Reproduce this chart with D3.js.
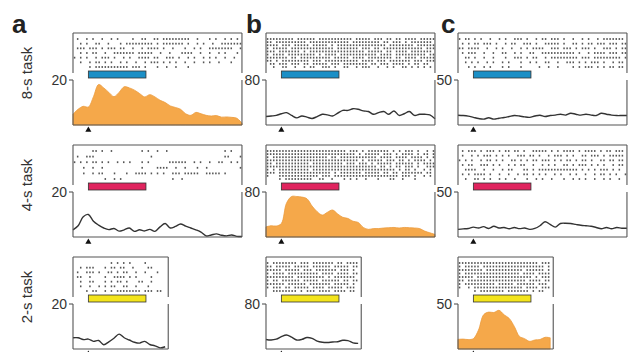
<!DOCTYPE html>
<html>
<head>
<meta charset="utf-8">
<script src="https://cdn.jsdelivr.net/npm/d3@7/dist/d3.min.js"></script>
<style>
  body { margin: 0; background: #fff; }
  text { font-family: "Liberation Sans", Arial, sans-serif; fill: #333; }
</style>
</head>
<body>
<svg class="fig" width="630" height="352"></svg>
<script>
// ---- data ----
let panelLetters = ["a", "b", "c"];
let taskLabels = ["8-s task", "4-s task", "2-s task"];
let tickValues = [20, 80, 50];             // spikes/s tick on each column
let cueColors = ["#1b8fc6", "#e0245e", "#f3e41b"];
let cueWindow = [0, 3.75];                  // s
let taskSpans = [[-1, 10], [-1, 10], [-1, 5.2]];
let filledColumn = [0, 1, 2];               // which neuron is "tuned" to each task
let binStep = 1 / 3;                        // s between PSTH samples
let rasterBin = 0.2;                        // s per raster character

// firing rate (spikes/s), sampled every binStep from -1 s
let rateA8 = [4.8, 7, 8.3, 8, 12.6, 18, 16.5, 14.5, 12.6, 14.5, 17, 16.5, 15.5, 14, 12.5, 13.5, 12.5,
  11, 10, 8.5, 7.8, 7, 5, 4.3, 5.6, 5, 4.3, 4, 4.2, 3.5, 3.6, 3.4, 3, 0.8];
let rateB8 = [15, 16, 17, 20, 22, 17, 12.7, 16, 14, 11.6, 15, 19, 18, 16, 21, 26, 26,
  29, 28, 25, 24, 19, 22, 24, 19, 25, 17, 20, 24, 17, 19, 19, 18, 11];
let rateC8 = [10.9, 10.5, 9.8, 8.5, 7.2, 6.5, 8, 6.5, 7.5, 8.3, 9.4, 10.5, 10, 9, 8.5, 10, 10.9,
  9.5, 10.5, 11, 12, 11, 13, 12, 11, 12, 11, 10.5, 13, 12, 11, 10.5, 10.5, 10.5];
let rateA4 = [3.2, 5, 9, 10, 7, 5.3, 4, 3.3, 3.8, 2.6, 3.2, 4, 2.5, 3.2, 2.7, 3.4, 2.5,
  4.5, 6, 4, 4.7, 5.8, 4.8, 4, 3.2, 2.2, 0.5, 0.9, 1.4, 0.8, 0.5, 0.9, 0.3, 0.2];
let rateB4 = [18, 20, 19.5, 24, 60, 72, 72, 71, 68, 55, 45, 39, 44, 48, 41, 35, 33,
  28, 26, 17, 13.6, 15, 15, 16, 16.5, 17, 16, 17, 16.5, 16, 15, 10.5, 7.5, 4.6];
let rateC4 = [8.5, 9, 9.5, 11, 10, 11.5, 9.5, 11.9, 10, 10.5, 9.2, 10.6, 9.3, 10, 8.5, 9.5, 12.5,
  17, 14, 11, 15, 15.3, 15, 14, 13, 12.5, 12, 10.6, 9.2, 10.5, 9.2, 10.5, 9.8, 9.8];
let rateA2 = [5, 5, 4.2, 4.4, 3.4, 3.8, 1.9, 3.2, 4.8, 6.6, 5, 4, 3, 2.6, 3.4, 2, 1.4, 0.5, 1];
let rateB2 = [17, 16, 17.5, 22, 25, 21, 16, 17, 20.5, 19, 14, 12, 11.5, 12.5, 13, 15.5, 15, 11, 10];
let rateC2 = [10.7, 11, 10.5, 11.5, 21, 38, 41, 40.5, 43, 38, 34, 25, 14, 11.5, 8.5, 10, 10.5, 13, 12.5];

// spike rasters, one string per trial, '|' = spike in a rasterBin
let rasterA8 = [
  " |  | |  |  | |    |  ||  || |||||||||  |   | |  | | |  |",
  "  | |  ||  |   | ||||||||| | ||||||| |  | |  |  ||||||| | ",
  " ||| ||| | ||| ||  |  | |||| |  |   |  | |  ||||||||  |  ",
  "  | | ||  |  ||||||| |||||  |  |   ||||  |  |  | |   |   ",
  "| | |  | ||| |  | |  |||| ||  ||| |  | |  | | |  |  |   ",
  "  |  | || | |  | |  |  | ||| | | |  |  |  | |  |   |    ",
  "     | ||||||||||| ||| |   |  |  |   |                   "];
let rasterB8 = [
  "||||||||| |||||| ||||||||||| ||||| ||| || || |||| ||||| ",
  "|| |||||||||| ||||||||||||| ||||||||| || ||| | ||||||| | ",
  "|||| ||| ||||| ||||| | |||||||||||||||| |||||||| |||||| ",
  "| ||||| |||||||||||||| ||||||| ||| || ||||||||||||| ||| ",
  "||| ||||||| | |||||||||||||||||| ||||| || |||| ||||||| |",
  "| |||| ||||||||| | |||| |||||||||||| |||| |||||||||| || ",
  "||||||| || |||||||||| ||||| |||| |||||||| || |||| ||||| ",
  "|| | ||||||||| ||| ||||||||||| |||| ||| ||||||| ||| ||| ",
  " || ||| ||| || ||||| ||| |||||||| || ||| |||| | || ||  |",
  "  |  ||  |  | ||  ||| |  ||  | |||  |  | |  || | | | |  "];
let rasterC8 = [
  "| || | |  |  | |  ||| |  | || ||| |  |  | |  | ||||||| |",
  " | | || ||| |  | ||  ||| |  ||||| |  || | || ||| ||| || ",
  "|| ||||  |  | |  |  | | ||||  ||| ||| | ||| |  ||| | || ",
  " | |||  |  |  ||  | |  ||  ||||||||||| |  | |||| ||| || ",
  "  || |  |  |   |  ||| | ||  | ||||||||| ||| ||||||||| | ",
  "  | | |  | |  | |   |  | |  ||  |  ||| | | ||| |  | ||  ",
  "   | |  | |   | |   |     |  |  |    | | ||| | | || ||  "];
let rasterA4 = [
  "      || |  |         | |  |  |                  | |   | ",
  " |  |||                  |                       ||   || ",
  "| | | || | |  | | |   | |      ||||||  | |  |  ||  | | |",
  "   |  |  |            |    ||||  |  |   |  |          ||",
  "   |  | ||   |   |  |||| | | |  ||| |||||  ||||| |     ",
  "          |  | |                |  |                     "];
let rasterB4 = [
  "|||||||||||||||||||||||||| ||| | ||||||| | | ||| |  | |  ",
  "||||||||||||||||||||||||||||| | ||||| ||| | |||| | || |  ",
  "| |||||||||||||||||| || |||||||||||| |||| |||| |||| | | |",
  "|||||||||||||||||||||||||||||| | ||||| ||| || | |||| | ||",
  "|| ||||||||||| |||||||||| ||| ||| | ||||| |||||| | |||| ",
  "|||||||||||||||||||||||||||||||||||| || | || ||| |  ||| ",
  "| | |||||||||| ||||||||||||||||||||||||||| | || |  | |  ",
  "||| ||||||||||||||||| | ||||||| ||||| || || ||||||| || |",
  "|   ||||||||||||| ||| ||||||||||||||||||||| ||| |  | |  ",
  "    | |||||||||  ||  |   | | |  |   |   ||  |   |      "];
let rasterC4 = [
  " | ||| | ||| | || || |  ||||| | | |||| | |||| | || ||| ",
  " |  | | ||| | | |  ||| || |  | ||| | |  || ||| | ||||| |",
  "| | |  | || | |  || | | || ||| | | || | || |  || || || |",
  " | ||  ||| | |  | | ||  |  | | |  || | ||| | | |  | || ",
  "  ||||  |  |  | ||   || | ||||||||||||| | | | ||| | |  |",
  " | | |||| |  |  |  | || | | |  | |  | |  |  | || | |  | ",
  "  |  || | |  | |  |   |  | |  |   |  | | |  |  | |  |   "];
let rasterA2 = [
  "            | | | |    |   ",
  "  | |||   | || ||  |    ||  ",
  " |  ||| |  || | ||  |  |   | ",
  " ||  |    |  |||| | |    |  ",
  "  |  ||   | | || |   ||  |  ",
  "  |  |  | | ||  ||  |   |  ",
  "    | ||  | | |||||||| ||| ||"];
let rasterB2 = [
  "| |||||||| ||| ||||||| || ||||",
  "|| ||||| ||||| |||||| ||||| ||",
  "||||| ||||| ||| ||||||| ||| | ",
  "| |||| |||||||||| |||| |||| ||",
  "||||||||| ||||||||| | ||||||| ",
  "| || |||||| ||||| |||||| || ||",
  "|||||| |||||| ||||||| ||||| | ",
  "| ||| || ||||| |||| ||||| |||",
  "  |||||||| | ||| |||| |||| || "];
let rasterC2 = [
  "|||||||||||||||||||||||||| |||",
  "| ||||| |||||||||||||||||||| |",
  "|||||||| |||||||||||| |||||| |",
  "| |||||||||||||||||| |||| ||||",
  "||||| |||||||||||||||||| | |||",
  "|| ||||||||||||||||||| |||| ||",
  "| |||||||||| ||||| |||||| ||| ",
  "|  | |||||||||||||||| |||| |||",
  "     | |||||||| ||||||| | ||  "];

let rates = [[rateA8, rateB8, rateC8], [rateA4, rateB4, rateC4], [rateA2, rateB2, rateC2]];
let rasters = [[rasterA8, rasterB8, rasterC8], [rasterA4, rasterB4, rasterC4], [rasterA2, rasterB2, rasterC2]];

// ---- layout ----
var svg = d3.select(".fig");
let colLeft = [73, 266, 458];
let rowTop = [33, 145, 257];
let pxPerSec = 15.36;
let frameColor = "#555";

function drawPanel(r, c) {
	let span = taskSpans[r];
	let left = colLeft[c];
	let right = left + (span[1] - span[0]) * pxPerSec;
	let top = rowTop[r];
	let tickY = top + 47;
	let bottom = top + 92;

	let xScale = d3.scaleLinear().domain(span).range([left, right]);
	let yScale = d3.scaleLinear().domain([0, tickValues[c]]).range([bottom, tickY]);

	let g = svg.append("g");

	// raster
	let trials = rasters[r][c];
	let rowY = d3.scalePoint().domain(d3.range(trials.length)).range([top + 6, top + 34]);
	trials.forEach((row, k) => {
		let spikes = [];
		for (let i = 0; i < row.length; i++) {
			let t = span[0] + (i + 0.5) * rasterBin;
			if (row[i] === "|" && t < span[1]) spikes.push(t);
		}
		g.selectAll(null)
		 .data(spikes)
		 .enter().append("rect")
		 .attr("x", d => xScale(d) - 0.7)
		 .attr("y", rowY(k) - 0.9)
		 .attr("width", 1.5)
		 .attr("height", 1.8)
		 .attr("fill", "#555");
	});

	// cue bar
	g.append("rect")
	 .attr("x", xScale(cueWindow[0]))
	 .attr("y", top + 38)
	 .attr("width", xScale(cueWindow[1]) - xScale(cueWindow[0]))
	 .attr("height", 7)
	 .attr("fill", cueColors[r])
	 .attr("stroke", "#333")
	 .attr("stroke-width", 0.8);

	// psth
	let pts = rates[r][c].map((v, i) => [span[0] + i * binStep, v]);
	if (filledColumn[r] === c) {
		g.append("path")
		 .datum(pts)
		 .attr("fill", "#f5a84a")
		 .attr("stroke", "#eb9a3c")
		 .attr("stroke-width", 0.8)
		 .attr("d", d3.area()
		    .x(d => xScale(d[0]))
		    .y0(bottom)
		    .y1(d => yScale(d[1]))
		    .curve(d3.curveCatmullRom));
	} else {
		g.append("path")
		 .datum(pts)
		 .attr("fill", "none")
		 .attr("stroke", "#333")
		 .attr("stroke-width", 1.4)
		 .attr("d", d3.line()
		    .x(d => xScale(d[0]))
		    .y(d => yScale(d[1]))
		    .curve(d3.curveCatmullRom));
	}

	// frame: box round raster, open axes round psth
	let frame = [
		[left, top, right, top],
		[left, top, left, top + 40],
		[right, top, right, top + 40],
		[left, tickY, left, bottom],
		[right, tickY, right, bottom],
		[left, bottom, right, bottom],
		[left - 4, tickY, left, tickY]
	];
	g.selectAll(null)
	 .data(frame)
	 .enter().append("line")
	 .attr("x1", d => d[0]).attr("y1", d => d[1])
	 .attr("x2", d => d[2]).attr("y2", d => d[3])
	 .attr("stroke", frameColor)
	 .attr("stroke-width", 1.1);

	g.append("text")
	 .attr("x", left - 6)
	 .attr("y", tickY + 5)
	 .attr("text-anchor", "end")
	 .attr("font-size", 14)
	 .text(tickValues[c]);

	// cue onset marker
	g.append("path")
	 .attr("d", d3.symbol(d3.symbolTriangle, 16)())
	 .attr("transform", `translate(${xScale(0)}, ${bottom + 5})`)
	 .attr("fill", "#111");
}

for (let r = 0; r < 3; r++) {
	for (let c = 0; c < 3; c++) drawPanel(r, c);

	svg.append("text")
	   .attr("transform", `translate(32, ${rowTop[r] + 40}) rotate(-90)`)
	   .attr("text-anchor", "middle")
	   .attr("font-size", 15)
	   .text(taskLabels[r]);
}

let letterX = [12, 246, 441];
for (let c = 0; c < 3; c++) {
	svg.append("text")
	   .attr("x", letterX[c])
	   .attr("y", 33)
	   .attr("font-size", 26)
	   .attr("font-weight", "bold")
	   .style("fill", "#222")
	   .text(panelLetters[c]);
}
</script>
</body>
</html>
